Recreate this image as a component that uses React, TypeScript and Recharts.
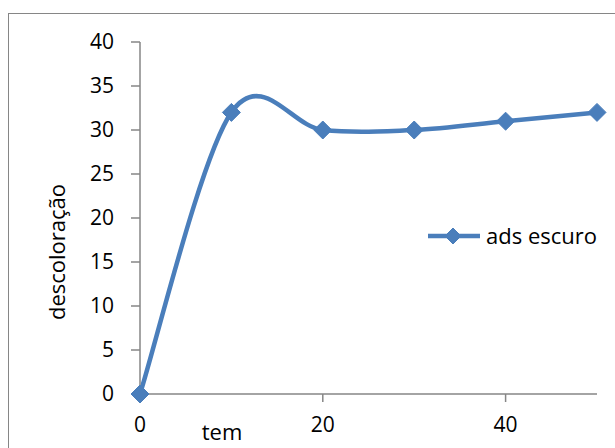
import React from 'react';
import { LineChart, Line, XAxis, YAxis } from 'recharts';

// tempo (x) e descoloração (y)
const tempo = [0, 10, 20, 30, 40, 50];
const adsEscuro = [0, 32, 30, 30, 31, 32];
const xTicks = [0, 20, 40];
const yTicks = [0, 5, 10, 15, 20, 25, 30, 35, 40];

const data = tempo.map((t, i) => ({ tempo: t, ads: adsEscuro[i] }));

const BLUE = '#4a7ebb';
const AXIS = '#868686';
const FONT = '"Open Sans", sans-serif';

// curva suavizada estilo Excel (Catmull-Rom passando pelos pontos)
const smoothCurve = (context: any) => {
  let xs: number[] = [];
  let ys: number[] = [];
  return {
    areaStart() {},
    areaEnd() {},
    lineStart() {
      xs = [];
      ys = [];
    },
    point(x: number, y: number) {
      xs.push(+x);
      ys.push(+y);
    },
    lineEnd() {
      const n = xs.length;
      if (!n) return;
      context.moveTo(xs[0], ys[0]);
      for (let i = 0; i < n - 1; i++) {
        const a = Math.max(i - 1, 0);
        const d = Math.min(i + 2, n - 1);
        const c1x = xs[i] + (xs[i + 1] - xs[a]) / 6;
        const c1y = ys[i] + (ys[i + 1] - ys[a]) / 6;
        const c2x = xs[i + 1] - (xs[d] - xs[i]) / 6;
        const c2y = ys[i + 1] - (ys[d] - ys[i]) / 6;
        context.bezierCurveTo(c1x, c1y, c2x, c2y, xs[i + 1], ys[i + 1]);
      }
    },
  };
};

const Diamond = (props: any) => {
  const { cx, cy, size = 9 } = props;
  if (cx == null || cy == null) return null;
  return (
    <path
      d={`M${cx},${cy - size} L${cx + size},${cy} L${cx},${cy + size} L${cx - size},${cy} Z`}
      fill={BLUE}
      stroke={BLUE}
      strokeWidth={1}
    />
  );
};

export default function App() {
  return (
    <div
      style={{
        position: 'fixed',
        left: 0,
        top: 0,
        width: 615,
        height: 448,
        overflow: 'hidden',
        background: '#fff',
      }}
    >
      <div
        style={{
          position: 'absolute',
          left: 8,
          top: 13,
          width: 700,
          height: 500,
          border: `1.5px solid ${AXIS}`,
        }}
      />
      <div style={{ position: 'absolute', left: 0, top: 0 }}>
        <LineChart
          width={615}
          height={448}
          data={data}
          margin={{ top: 42, right: 18, left: 0, bottom: 0 }}
        >
          <XAxis
            dataKey="tempo"
            type="number"
            domain={[0, 50]}
            ticks={xTicks}
            height={54}
            stroke={AXIS}
            strokeWidth={1.5}
            tickSize={8}
            tickMargin={15}
            tick={{ fill: '#000', fontSize: 21, fontFamily: FONT }}
            label={{
              value: 'tem',
              content: () => (
                <text x={222} y={440} textAnchor="middle" fontFamily={FONT} fontSize={22} fill="#000">
                  tem
                </text>
              ),
            }}
          />
          <YAxis
            type="number"
            domain={[0, 40]}
            ticks={yTicks}
            width={140}
            stroke={AXIS}
            strokeWidth={1.5}
            tickSize={9}
            tickMargin={17}
            tick={{ fill: '#000', fontSize: 21, fontFamily: FONT }}
            label={{
              value: 'descoloração',
              content: () => (
                <text
                  x={57}
                  y={252}
                  transform="rotate(-90 57 252)"
                  textAnchor="middle"
                  dy="0.35em"
                  fontFamily={FONT}
                  fontSize={22}
                  fill="#000"
                >
                  descoloração
                </text>
              ),
            }}
          />
          <Line
            type={smoothCurve as any}
            dataKey="ads"
            name="ads escuro"
            stroke={BLUE}
            strokeWidth={4.5}
            dot={<Diamond />}
            activeDot={false}
            isAnimationActive={false}
          />
        </LineChart>
      </div>
      <div style={{ position: 'absolute', left: 428, top: 222 }}>
        <svg width={185} height={30} style={{ display: 'block', overflow: 'visible' }}>
          <line x1={0} y1={14} x2={52} y2={14} stroke={BLUE} strokeWidth={4.5} />
          <Diamond cx={25} cy={14} size={8} />
          <text x={58} y={14} dy="0.35em" fontFamily={FONT} fontSize={22} fill="#000">
            ads escuro
          </text>
        </svg>
      </div>
    </div>
  );
}
